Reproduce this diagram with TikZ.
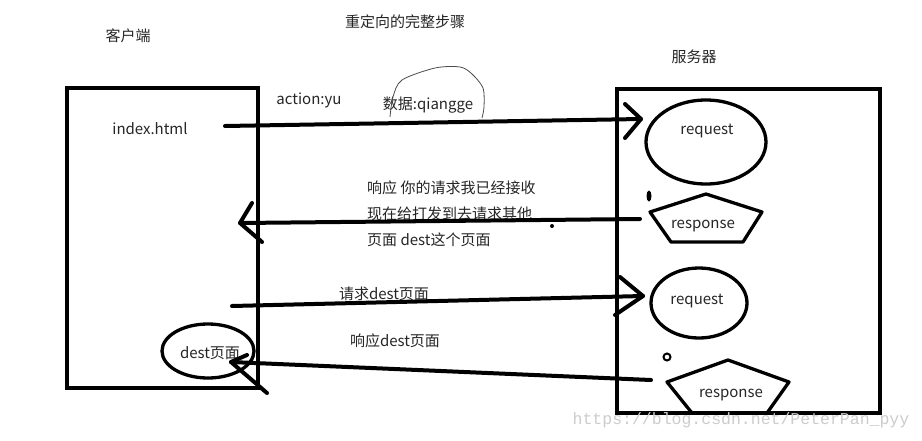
\documentclass[tikz,border=0pt]{standalone}
\usepackage{fontspec}
\setmainfont{Noto Sans CJK SC}
\newfontfamily\wmfont{Liberation Mono}
\usetikzlibrary{shapes.geometric}
\begin{document}
\begin{tikzpicture}[x=1pt,y=-1pt]
\tikzset{
  heavy/.style={line width=4pt, line cap=round, line join=round},
  boxline/.style={draw, line width=4pt, inner sep=0pt, outer sep=0pt},
  shapeline/.style={line width=3.3pt, line join=round},
  txt/.style={font=\fontsize{15}{17}\selectfont, text=black!85, inner sep=0pt, yshift=-1.5pt},
}
\useasboundingbox (0,0) rectangle (922,440);
\fill[white] (0,0) rectangle (922,440);

% titles
\node[txt] (kehu) at (128,34) {客户端};
\node[txt] (title) at (405,20) {重定向的完整步骤};
\node[txt] (fuwu) at (694,55) {服务器};

% boxes
\node[boxline, minimum width=191pt, minimum height=300pt] (client) at (162.5,238) {};
\node[boxline, minimum width=263pt, minimum height=324pt] (server) at (748.5,251) {};

% client texts
\node[txt] (index) at (150,127) {index.html};
\node[ellipse, draw, shapeline, minimum width=92pt, minimum height=54pt, inner sep=0pt] (dest) at (208,351) {};
\node[txt] (destt) at (210,352) {dest页面};

% labels
\node[txt] (action) at (309,99) {action:yu};
\node[txt] (data) at (428,104) {数据:qiangge};
\draw[black!70, line width=0.8pt] plot[smooth] coordinates {(390,117) (393,97) (402,80) (435,68) (460,67) (472,74) (483,88) (484,107) (482,118)};

\node[txt, anchor=west] (m1) at (367,186) {响应 你的请求我已经接收};
\node[txt, anchor=west] (m2) at (367,212) {现在给打发到去请求其他};
\node[txt, anchor=west] (m3) at (367,238) {页面 dest这个页面};
\node[txt] (req2lab) at (384,292) {请求dest页面};
\node[txt] (resp2lab) at (395,339) {响应dest页面};

% server shapes
\node[ellipse, draw, shapeline, minimum width=120pt, minimum height=84pt, inner sep=0pt] (req1) at (706,142) {};
\node[txt] (req1t) at (707,129) {request};
\draw[shapeline] (706,194) -- (762,212) -- (743,242) -- (671,242) -- (650,212) -- cycle;
\node[txt] (resp1t) at (703,225) {response};

\node[ellipse, draw, shapeline, minimum width=96pt, minimum height=70pt, inner sep=0pt] (req2) at (699,303) {};
\node[txt] (req2t) at (697,299) {request};
\draw[shapeline] (728,360) -- (789,382) -- (767,413) -- (692,413) -- (667,382) -- cycle;
\node[txt] (resp2t) at (731,394) {response};

% small marks
\fill (649,196) ellipse [x radius=2.5pt, y radius=5.5pt];
\draw[line width=2pt] (667,357) circle [radius=3.5pt];
\fill (552,226) circle [radius=2pt];

% arrow 1
\coordinate (a1s) at (225,126);
\coordinate (a1e) at (641,119);
\draw[heavy] (a1s) -- (a1e);
\draw[heavy] (625,104) -- (a1e) -- (625,138);

% arrow 2
\coordinate (a2s) at (640,219);
\coordinate (a2e) at (240,223);
\draw[heavy] (a2s) -- (a2e);
\draw[heavy] (252,203) -- (a2e) -- (262,242);

% arrow 3
\coordinate (a3s) at (232,306);
\coordinate (a3e) at (643,296);
\draw[heavy] (a3s) -- (a3e);
\draw[heavy] (620,277) -- (a3e) -- (615,315);

% arrow 4
\coordinate (a4s) at (651,380);
\coordinate (a4e) at (231,362);
\draw[heavy] (a4s) -- (a4e);
\draw[heavy] (247,355) -- (a4e) -- (267,393);

% watermark
\node[font=\wmfont\fontsize{16.5}{18}\selectfont, text=black!20, inner sep=0pt] (wm) at (741,420) {https://blog.csdn.net/PeterPan\_pyy};
\end{tikzpicture}
\end{document}
